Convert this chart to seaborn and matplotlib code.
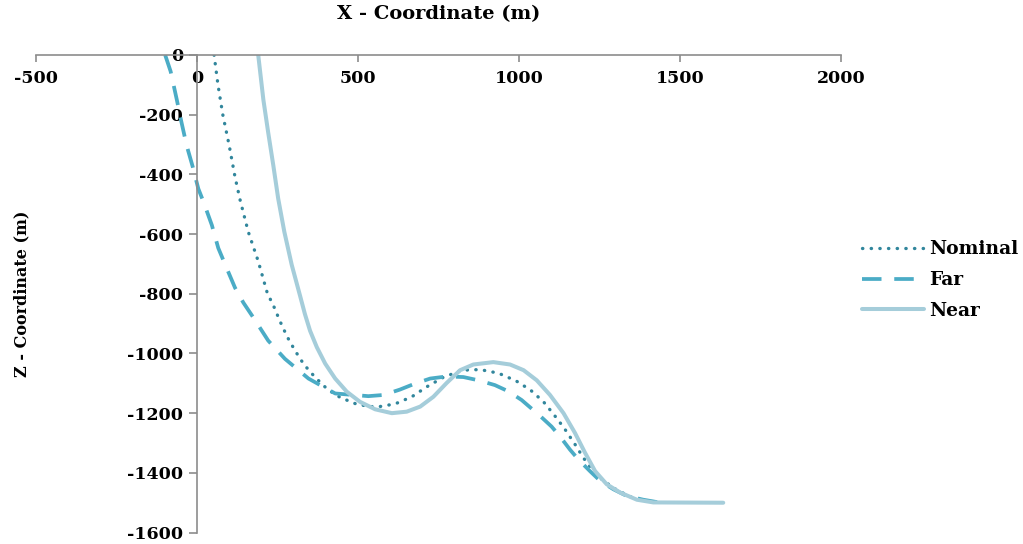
import matplotlib
matplotlib.use('Agg')
import matplotlib.pyplot as plt
import seaborn as sns
import pandas as pd

# well trajectories (x and z in metres)
nominal_x = [53, 65, 80, 100, 118, 134, 159, 190, 218, 239, 258, 280, 304, 332,
             366, 405, 444, 498, 556, 615, 667, 713, 763, 822, 879, 936, 991,
             1036, 1076, 1109, 1140, 1174, 1200, 1228, 1260, 1300, 1345, 1390, 1440]
nominal_z = [0, -100, -200, -304, -409, -487, -592, -691, -797, -844, -893, -944,
             -990, -1037, -1079, -1120, -1147, -1171, -1180, -1169, -1145, -1112,
             -1081, -1056, -1054, -1066, -1092, -1123, -1162, -1206, -1250, -1305,
             -1350, -1390, -1425, -1455, -1480, -1494, -1500]

far_x = [-99, -82, -63, -48, -32, -13, 4, 20, 46, 66, 92, 118, 144, 175, 221,
         273, 346, 429, 532, 579, 630, 672, 724, 775, 827, 874, 925, 967, 1008,
         1065, 1101, 1127, 1158, 1184, 1220, 1252, 1293, 1334, 1386, 1440]
far_z = [0, -55, -149, -227, -304, -376, -448, -492, -570, -647, -714, -780,
         -830, -880, -957, -1018, -1084, -1134, -1143, -1139, -1121, -1103,
         -1084, -1077, -1079, -1090, -1106, -1127, -1156, -1209, -1245, -1278,
         -1322, -1355, -1394, -1427, -1455, -1477, -1490, -1500]

near_x = [190, 206, 221, 237, 252, 271, 294, 320, 335, 351, 372, 398, 429, 465,
          506, 553, 605, 651, 693, 734, 775, 817, 858, 920, 972, 1014, 1055,
          1096, 1138, 1174, 1205, 1236, 1272, 1314, 1366, 1417, 1634]
near_z = [0, -150, -260, -371, -481, -592, -703, -807, -868, -924, -979, -1034,
          -1084, -1128, -1162, -1187, -1200, -1195, -1178, -1145, -1099, -1056,
          -1037, -1029, -1037, -1056, -1090, -1139, -1200, -1267, -1333, -1394,
          -1438, -1466, -1490, -1499, -1500]

x_ticks = [-500, 0, 500, 1000, 1500, 2000]
z_ticks = [0, -200, -400, -600, -800, -1000, -1200, -1400, -1600]

sns.set_style('white')
plt.rcParams['font.family'] = ['DejaVu Serif']
plt.rcParams['font.weight'] = 'bold'
plt.rcParams['axes.unicode_minus'] = False
plt.rcParams['text.color'] = 'black'
plt.rcParams['xtick.color'] = 'black'
plt.rcParams['ytick.color'] = 'black'
plt.rcParams['axes.labelcolor'] = 'black'

fig = plt.figure(figsize=(10.23, 5.44), dpi=100)
ax = fig.add_axes([0.0352, 0.021, 0.787, 0.878])

df_nom = pd.DataFrame({'x': nominal_x, 'z': nominal_z})
df_far = pd.DataFrame({'x': far_x, 'z': far_z})
df_near = pd.DataFrame({'x': near_x, 'z': near_z})

sns.lineplot(data=df_nom, x='x', y='z', sort=False, ax=ax, color='#31869C',
             linewidth=2.4, linestyle=(0, (0.1, 2.5)), dash_capstyle='round',
             label='Nominal')
sns.lineplot(data=df_far, x='x', y='z', sort=False, ax=ax, color='#4BACC6',
             linewidth=2.7, linestyle=(0, (5.2, 3.4)), label='Far')
sns.lineplot(data=df_near, x='x', y='z', sort=False, ax=ax, color='#A5CDDA',
             linewidth=2.9, solid_capstyle='round', solid_joinstyle='round',
             label='Near')

ax.set_xlim(-500, 2000)
ax.set_ylim(-1600, 0)
ax.set_xticks(x_ticks)
ax.set_yticks(z_ticks)

# axes cross at the origin, like the Excel original
ax.spines['bottom'].set_position(('data', 0))
ax.spines['left'].set_position(('data', 0))
ax.spines['top'].set_visible(False)
ax.spines['right'].set_visible(False)
for s in ['bottom', 'left']:
    ax.spines[s].set_color('#8c8c8c')
    ax.spines[s].set_linewidth(1.2)

ax.tick_params(axis='x', direction='out', length=5, width=1.2, color='#8c8c8c',
               labelsize=12.5, pad=6, bottom=True)
ax.tick_params(axis='y', direction='out', length=6, width=1.2, color='#8c8c8c',
               labelsize=12.5, pad=4, left=True)
for lab in ax.get_xticklabels() + ax.get_yticklabels():
    lab.set_fontweight('bold')

ax.set_xlabel('X - Coordinate (m)', fontsize=14, fontweight='bold')
ax.xaxis.set_label_position('top')
ax.xaxis.set_label_coords(0.5, 1.076)
ax.set_ylabel('Z - Coordinate (m)', fontsize=11.5, fontweight='bold')
ax.yaxis.set_label_coords(-0.0075, 0.5)

leg = ax.legend(loc='center left', bbox_to_anchor=(0.8426, 0.485),
                bbox_transform=fig.transFigure, frameon=False, fontsize=13.5,
                handlelength=3.3, handletextpad=0.3, labelspacing=0.68,
                borderpad=0, borderaxespad=0)
for t in leg.get_texts():
    t.set_fontweight('bold')

fig.savefig('out.png', dpi=100)
